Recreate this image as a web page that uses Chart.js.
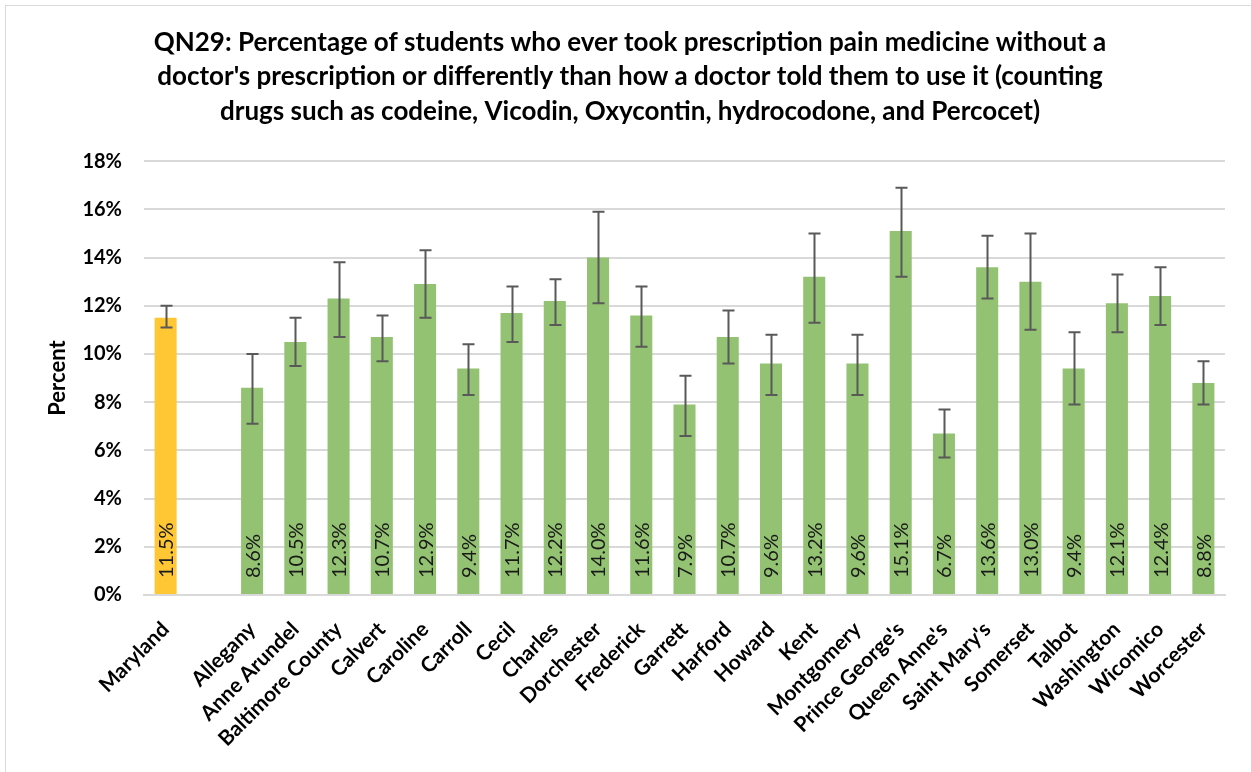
<!DOCTYPE html>
<html>
<head>
<meta charset="utf-8">
<script src="https://cdn.jsdelivr.net/npm/chart.js@4/dist/chart.umd.min.js"></script>
<style>
  html, body { margin: 0; padding: 0; background: #fff; }
  #wrap { position: relative; width: 1251px; height: 772px; overflow: hidden; }
  #frame { position: absolute; left: 5px; top: 5px; width: 1260px; height: 780px; border: 1px solid #d9d9d9; box-sizing: border-box; pointer-events: none; }
  canvas { display: block; }
</style>
</head>
<body>
<div id="wrap">
  <canvas id="c" width="1251" height="772"></canvas>
  <div id="frame"></div>
</div>
<script>
const titleLines = [
  "QN29: Percentage of students who ever took prescription pain medicine without a",
  "doctor's prescription or differently than how a doctor told them to use it (counting",
  "drugs such as codeine, Vicodin, Oxycontin, hydrocodone, and Percocet)"
];
const categories = ["Maryland", "", "Allegany", "Anne Arundel", "Baltimore County", "Calvert", "Caroline", "Carroll", "Cecil", "Charles", "Dorchester", "Frederick", "Garrett", "Harford", "Howard", "Kent", "Montgomery", "Prince George's", "Queen Anne's", "Saint Mary's", "Somerset", "Talbot", "Washington", "Wicomico", "Worcester"];
const values = [11.5, null, 8.6, 10.5, 12.3, 10.7, 12.9, 9.4, 11.7, 12.2, 14.0, 11.6, 7.9, 10.7, 9.6, 13.2, 9.6, 15.1, 6.7, 13.6, 13.0, 9.4, 12.1, 12.4, 8.8];
const lowerCI = [11.1, null, 7.1, 9.5, 10.7, 9.7, 11.5, 8.3, 10.5, 11.2, 12.1, 10.3, 6.6, 9.6, 8.3, 11.3, 8.3, 13.2, 5.7, 12.3, 11.0, 7.9, 10.9, 11.2, 7.9];
const upperCI = [12.0, null, 10.0, 11.5, 13.8, 11.6, 14.3, 10.4, 12.8, 13.1, 15.9, 12.8, 9.1, 11.8, 10.8, 15.0, 10.8, 16.9, 7.7, 14.9, 15.0, 10.9, 13.3, 13.6, 9.7];
const yTicks = [0, 2, 4, 6, 8, 10, 12, 14, 16, 18];
const yAxisTitle = "Percent";

const GREEN = "#93C372";
const GOLD = "#FFC733";
const barColors = categories.map((c, i) => i === 0 ? GOLD : GREEN);

const errorBarPlugin = {
  id: "errorBars",
  afterDatasetsDraw(chart) {
    const ctx = chart.ctx;
    const meta = chart.getDatasetMeta(0);
    const ys = chart.scales.y;
    ctx.save();
    ctx.fillStyle = "#1a1a1a";
    ctx.font = "20px Lato";
    ctx.textAlign = "left";
    ctx.textBaseline = "middle";
    const y0 = ys.getPixelForValue(0);
    meta.data.forEach((bar, i) => {
      if (values[i] == null) return;
      ctx.save();
      ctx.translate(bar.x + 1, y0 - 17);
      ctx.rotate(-Math.PI / 2);
      ctx.fillText(values[i].toFixed(1) + "%", 0, 0);
      ctx.restore();
    });
    ctx.strokeStyle = "#595959";
    ctx.lineWidth = 2;
    meta.data.forEach((bar, i) => {
      if (lowerCI[i] == null) return;
      const x = Math.round(bar.x) + 0.5;
      const yl = ys.getPixelForValue(lowerCI[i]);
      const yh = ys.getPixelForValue(upperCI[i]);
      ctx.beginPath();
      ctx.moveTo(x, yl); ctx.lineTo(x, yh);
      ctx.moveTo(x - 6, yl); ctx.lineTo(x + 6, yl);
      ctx.moveTo(x - 6, yh); ctx.lineTo(x + 6, yh);
      ctx.stroke();
    });
    ctx.restore();
  }
};

new Chart(document.getElementById("c"), {
  type: "bar",
  data: {
    labels: categories,
    datasets: [{
      data: values,
      backgroundColor: barColors,
      borderWidth: 0,
      categoryPercentage: 1.0,
      barPercentage: 0.51
    }]
  },
  options: {
    responsive: false,
    animation: false,
    events: [],
    layout: { padding: { left: 35, right: 26, top: 0, bottom: 0 } },
    plugins: {
      legend: { display: false },
      tooltip: { enabled: false },
      title: {
        display: true,
        text: titleLines,
        color: "#000",
        font: { family: "Lato", size: 26, weight: "bold", lineHeight: 1.335 },
        padding: { top: 25, bottom: 32 }
      }
    },
    scales: {
      x: {
        afterFit(scale) { scale.height = 177; },
        grid: { display: false, drawTicks: false },
        border: { display: true, color: "#d9d9d9", width: 2 },
        ticks: {
          color: "#000",
          font: { family: "Lato", size: 21, weight: "bold" },
          minRotation: 45,
          maxRotation: 45,
          autoSkip: false,
          padding: 22
        }
      },
      y: {
        min: 0,
        max: 18,
        afterBuildTicks(scale) { scale.ticks = yTicks.map(v => ({ value: v })); },
        afterFit(scale) { scale.width = 109; },
        grid: { color: "#d9d9d9", lineWidth: 2, drawTicks: false },
        border: { display: false },
        ticks: {
          color: "#000",
          font: { family: "Lato", size: 20, weight: "bold" },
          padding: 22,
          callback: v => v + "%"
        },
        title: {
          display: true,
          text: yAxisTitle,
          color: "#000",
          font: { family: "Lato", size: 22, weight: "bold" },
          padding: { top: 10, bottom: 0 }
        }
      }
    }
  },
  plugins: [errorBarPlugin]
});
</script>
</body>
</html>
